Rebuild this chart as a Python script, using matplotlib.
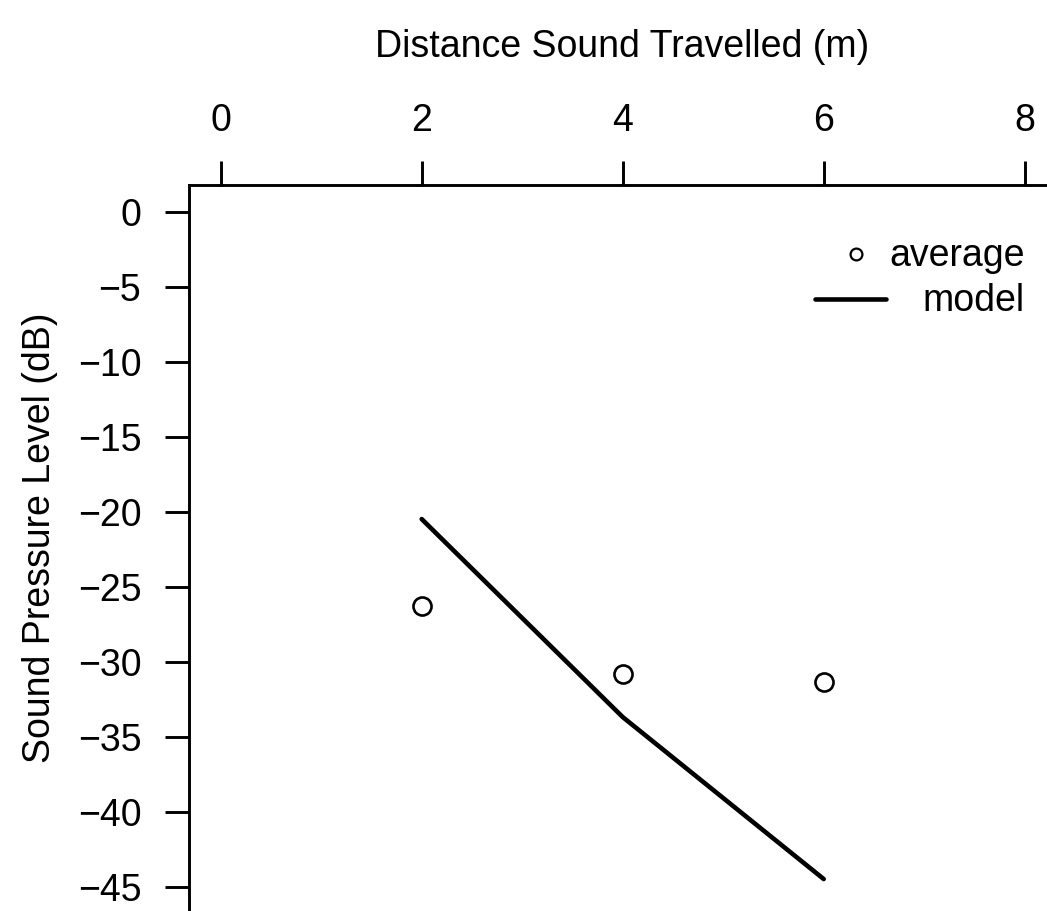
import matplotlib
matplotlib.use("Agg")
import matplotlib.pyplot as plt
from matplotlib.lines import Line2D

# Données
distance = [2, 4, 6]
average_spl = [-26.25, -30.8, -31.3]
model_spl = [-20.45, -33.65, -44.45]

x_ticks = [0, 2, 4, 6, 8]
y_ticks = [0, -5, -10, -15, -20, -25, -30, -35, -40, -45]

plt.rcParams['font.family'] = ['Liberation Sans', 'DejaVu Sans']
fs = 27

W, H = 1047, 911
fig = plt.figure(figsize=(W / 100, H / 100), dpi=100)
# la zone de tracé dépasse à droite et en bas (figure recadrée)
ax = fig.add_axes([188.5 / W, (H - 914.3) / H, 868.4 / W, 729 / H])

ax.plot(distance, average_spl, 'o', ms=13, mfc='white', mec='black', mew=1.9)
ax.plot(distance, model_spl, '-', color='black', lw=3.3,
        solid_joinstyle='round', solid_capstyle='round')

ax.set_xlim(-0.32, 8.32)
ax.set_ylim(-46.8, 1.8)

ax.spines['right'].set_visible(False)
ax.spines['bottom'].set_visible(False)
for s in ('top', 'left'):
    ax.spines[s].set_linewidth(2.1)

ax.xaxis.tick_top()
ax.set_xticks(x_ticks)
ax.set_yticks(y_ticks)
ax.tick_params(axis='x', length=17, width=2.1, pad=16, labelsize=fs)
ax.tick_params(axis='y', length=17, width=2.1, pad=17, labelsize=fs)

fig.text(622 / W, 1 - 47 / H, 'Distance Sound Travelled (m)', fontsize=fs,
         ha='center', va='center')
fig.text(40 / W, 1 - 538 / H, 'Sound Pressure Level (dB)', fontsize=fs,
         ha='center', va='center', rotation=90)

# légende dessinée à la main (texte aligné à droite)
ax.add_line(Line2D([0.7687], [0.9053], transform=ax.transAxes, marker='o',
                   ms=8.5, mfc='white', mec='black', mew=1.6, ls='none'))
ax.add_line(Line2D([0.7214, 0.8032], [0.844, 0.844], transform=ax.transAxes,
                   color='black', lw=3.3, solid_capstyle='round'))
ax.text(0.963, 0.8893, 'average', transform=ax.transAxes, fontsize=fs,
        ha='right', va='baseline')
ax.text(0.963, 0.8269, 'model', transform=ax.transAxes, fontsize=fs,
        ha='right', va='baseline')

fig.savefig('out.png', dpi=100)
